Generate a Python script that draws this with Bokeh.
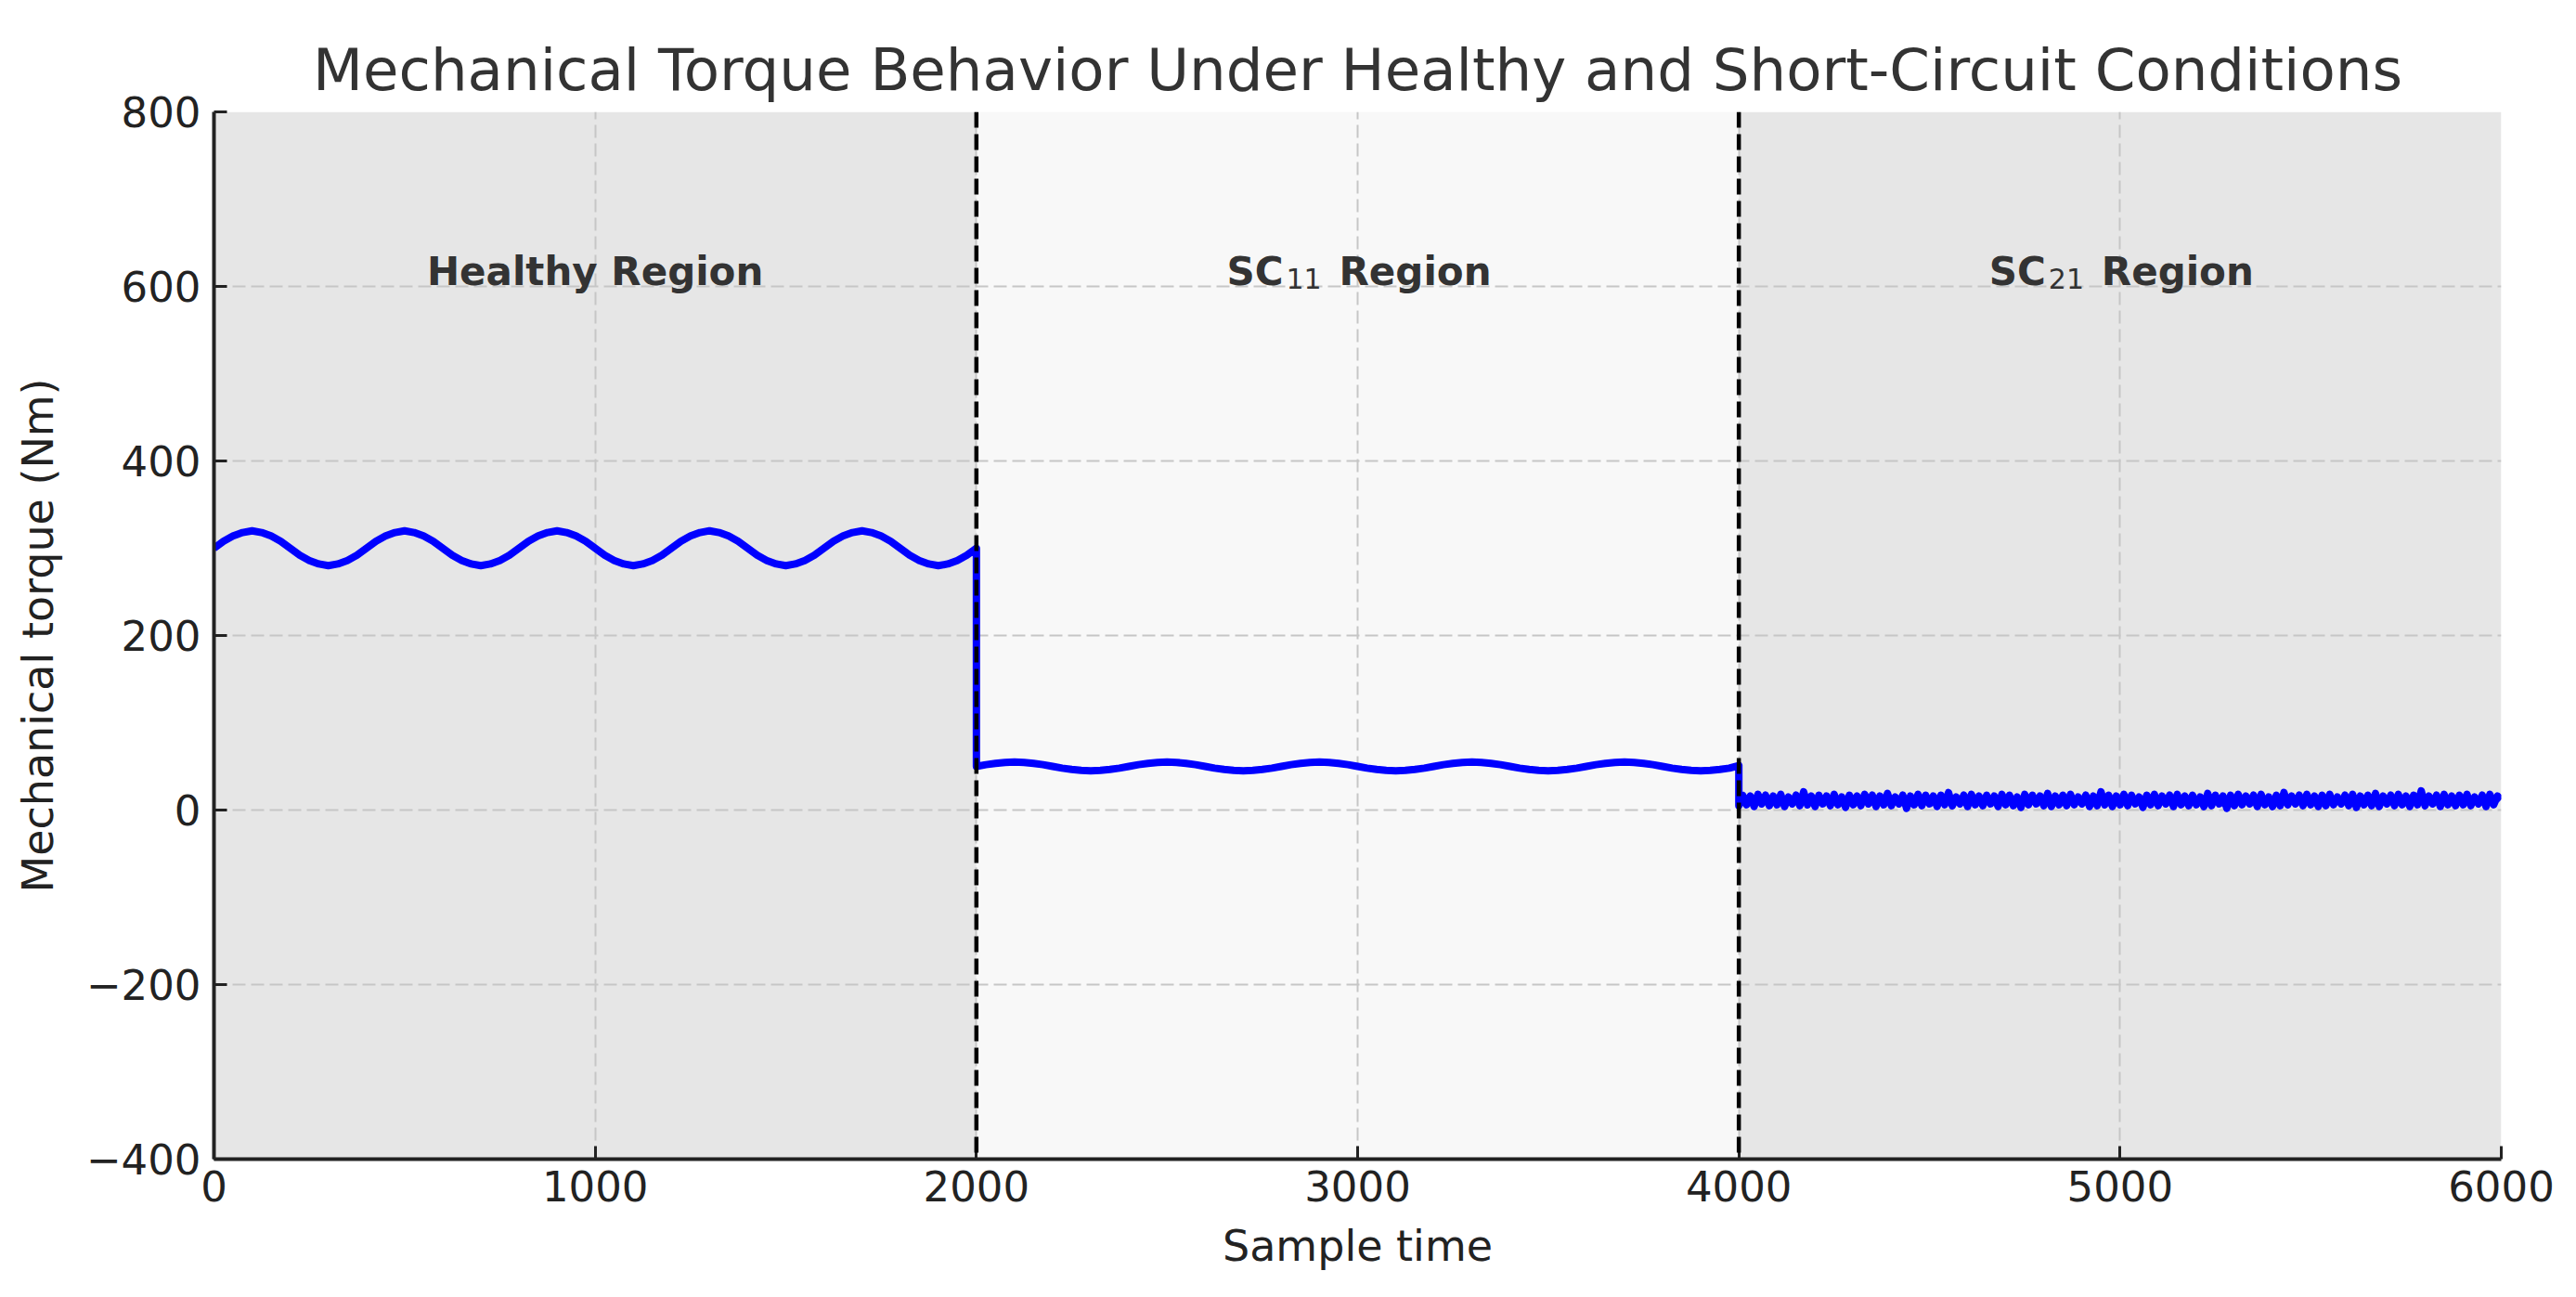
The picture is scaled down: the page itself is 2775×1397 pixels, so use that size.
from bokeh.plotting import figure
from bokeh.models import Range1d, FixedTicker, Span, BoxAnnotation
from bokeh.core.properties import value
from bokeh.embed import file_html
from bokeh.resources import INLINE

# ---------------- data ----------------
title_text = "Mechanical Torque Behavior Under Healthy and Short-Circuit Conditions"
x_label = "Sample time"
y_label = "Mechanical torque (Nm)"

region_bounds = [0, 2000, 4000, 6000]
region_colors = ["#e6e6e6", "#f8f8f8", "#e6e6e6"]
fault_lines = [2000, 4000]

x_ticks = [0, 1000, 2000, 3000, 4000, 5000, 6000]
y_ticks = [-400, -200, 0, 200, 400, 600, 800]
y_tick_labels = {-400: "\u2212400", -200: "\u2212200", 0: "0", 200: "200",
                 400: "400", 600: "600", 800: "800"}

# healthy region (sampled every 25)
healthy_t = list(range(0, 2001, 25))
healthy_torque = [
    300, 308, 314, 318, 320, 318, 314, 308, 300, 292, 286, 282, 280, 282, 286, 292,
    300, 308, 314, 318, 320, 318, 314, 308, 300, 292, 286, 282, 280, 282, 286, 292,
    300, 308, 314, 318, 320, 318, 314, 308, 300, 292, 286, 282, 280, 282, 286, 292,
    300, 308, 314, 318, 320, 318, 314, 308, 300, 292, 286, 282, 280, 282, 286, 292,
    300, 308, 314, 318, 320, 318, 314, 308, 300, 292, 286, 282, 280, 282, 286, 292,
    300,
]

# SC11 region (sampled every 25)
sc11_t = list(range(2000, 4001, 25))
sc11_torque = [
    50, 52, 53.5, 54.6, 55, 54.6, 53.5, 52, 50, 48, 46.5, 45.4, 45, 45.4, 46.5, 48,
    50, 52, 53.5, 54.6, 55, 54.6, 53.5, 52, 50, 48, 46.5, 45.4, 45, 45.4, 46.5, 48,
    50, 52, 53.5, 54.6, 55, 54.6, 53.5, 52, 50, 48, 46.5, 45.4, 45, 45.4, 46.5, 48,
    50, 52, 53.5, 54.6, 55, 54.6, 53.5, 52, 50, 48, 46.5, 45.4, 45, 45.4, 46.5, 48,
    50, 52, 53.5, 54.6, 55, 54.6, 53.5, 52, 50, 48, 46.5, 45.4, 45, 45.4, 46.5, 48,
    51,
]

# SC21 region (sampled every 10)
sc21_t = list(range(4000, 6001, 10))
sc21_torque = [
    5, 17, 6, 16, 4, 18, 7, 17, 5, 16,
    6, 18, 4, 15, 7, 17, 5, 21, 6, 16,
    4, 17, 7, 16, 5, 18, 6, 15, 3, 17,
    6, 16, 5, 18, 7, 17, 4, 16, 6, 19,
    5, 15, 7, 17, 2, 16, 6, 18, 5, 17,
    7, 16, 4, 17, 6, 20, 5, 15, 7, 17,
    4, 18, 6, 16, 5, 17, 7, 16, 4, 18,
    6, 17, 5, 15, 3, 18, 6, 17, 7, 16,
    5, 19, 4, 16, 6, 17, 5, 18, 6, 15,
    7, 17, 4, 16, 5, 21, 6, 17, 4, 16,
    6, 18, 5, 17, 7, 15, 3, 17, 6, 18,
    5, 16, 7, 17, 4, 18, 6, 16, 5, 17,
    6, 15, 4, 19, 5, 17, 7, 16, 2, 17,
    5, 18, 6, 16, 7, 17, 4, 18, 6, 15,
    4, 17, 5, 20, 6, 16, 7, 17, 5, 18,
    6, 16, 4, 17, 5, 18, 6, 15, 7, 17,
    5, 18, 3, 16, 6, 17, 5, 19, 4, 16,
    7, 17, 5, 18, 6, 16, 4, 17, 6, 22,
    5, 16, 7, 17, 4, 18, 6, 16, 5, 17,
    6, 18, 5, 15, 7, 17, 4, 18, 6, 16,
    12,
]

healthy_label = "Healthy Region"
healthy_label_x = [1000]
sc_label_x = [3000, 5000]
sc_label_sub = ["11", "21"]
label_y = [600]

# ---------------- figure ----------------
FONT = "DejaVu Sans"
p = figure(
    frame_width=2464, frame_height=1128,
    min_border_left=230, min_border_top=120, min_border_right=64, min_border_bottom=132,
    x_range=Range1d(0, 6000), y_range=Range1d(-400, 800),
    output_backend="svg", toolbar_location=None,
    background_fill_color="white", border_fill_color="white",
)
p.outline_line_color = None

# title
p.title.text = title_text
p.title.text_font = FONT
p.title.text_font_size = "62.6px"
p.title.text_font_style = "normal"
p.title.text_color = "#333333"
p.title.align = "center"
p.title.standoff = 18

# region backgrounds
for i, c in enumerate(region_colors):
    p.add_layout(BoxAnnotation(left=region_bounds[i], right=region_bounds[i + 1],
                               fill_color=c, fill_alpha=1.0, line_color=None,
                               level="image"))

# grid
for g in (p.xgrid, p.ygrid):
    g.grid_line_color = "#c6c6c6"
    g.grid_line_width = 2
    g.grid_line_dash = "14 6"
p.xgrid.ticker = FixedTicker(ticks=x_ticks)
p.ygrid.ticker = FixedTicker(ticks=y_ticks)

# axes
p.xaxis.ticker = FixedTicker(ticks=x_ticks)
p.yaxis.ticker = FixedTicker(ticks=y_ticks)
p.yaxis.major_label_overrides = y_tick_labels
p.xaxis.axis_label = x_label
p.yaxis.axis_label = y_label
for ax in (p.xaxis, p.yaxis):
    ax.axis_line_color = "#222222"
    ax.axis_line_width = 4
    ax.major_tick_in = 14
    ax.major_tick_out = 0
    ax.major_tick_line_width = 3
    ax.major_tick_line_color = "#222222"
    ax.minor_tick_line_color = None
    ax.major_label_text_font = FONT
    ax.major_label_text_font_size = "45px"
    ax.major_label_text_color = "#222222"
    ax.axis_label_text_font = FONT
    ax.axis_label_text_font_size = "46px"
    ax.axis_label_text_font_style = "normal"
    ax.axis_label_text_color = "#222222"
p.xaxis.major_label_standoff = 12
p.yaxis.major_label_standoff = 14
p.xaxis.axis_label_standoff = 18
p.yaxis.axis_label_standoff = 22

# torque line
all_t = healthy_t + sc11_t + sc21_t
all_torque = healthy_torque + sc11_torque + sc21_torque
p.line(all_t, all_torque, line_color="#0000ff", line_width=8, line_join="round")

# fault boundaries
for loc in fault_lines:
    p.add_layout(Span(location=loc, dimension="height", line_color="black",
                      line_width=4.5, line_dash="17 7"))

# region labels
lbl_color = "#333333"
dy = -16
p.text(x=healthy_label_x, y=label_y, text=[healthy_label],
       text_font=value(FONT), text_font_style="bold", text_font_size="42px",
       text_color=lbl_color, text_align="center", text_baseline="alphabetic",
       y_offset=dy)
p.text(x=sc_label_x, y=label_y * 2, text=["SC", "SC"],
       text_font=value(FONT), text_font_style="bold", text_font_size="42px",
       text_color=lbl_color, text_align="right", text_baseline="alphabetic",
       x_offset=-80, y_offset=dy)
p.text(x=sc_label_x, y=label_y * 2, text=sc_label_sub,
       text_font=value(FONT), text_font_style="normal", text_font_size="30px",
       text_color=lbl_color, text_align="left", text_baseline="alphabetic",
       x_offset=-77, y_offset=dy + 7)
p.text(x=sc_label_x, y=label_y * 2, text=["Region", "Region"],
       text_font=value(FONT), text_font_style="bold", text_font_size="42px",
       text_color=lbl_color, text_align="left", text_baseline="alphabetic",
       x_offset=-20, y_offset=dy)

open("out.html", "w").write(file_html(p, INLINE))
